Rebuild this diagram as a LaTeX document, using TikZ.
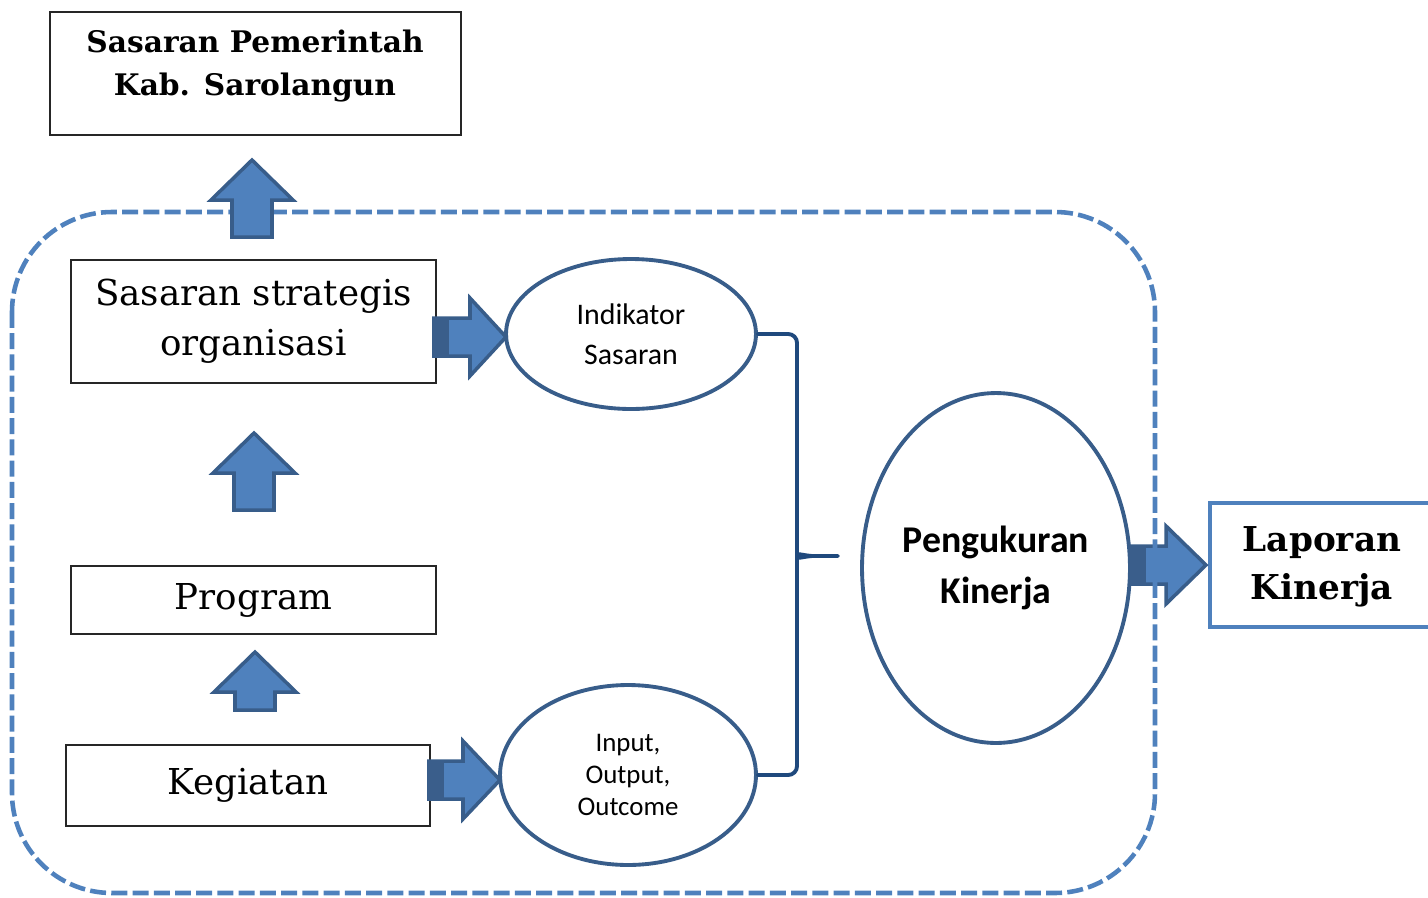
\documentclass[tikz,border=0pt]{standalone}
\usepackage{fontspec}
\newfontfamily\calibri{Carlito}
\newfontfamily\bookman{DejaVu Serif}
\usetikzlibrary{shapes.geometric,positioning,calc}

\definecolor{arrfill}{HTML}{4F81BD}
\definecolor{arrline}{HTML}{385D8A}
\definecolor{arrdark}{HTML}{3A5E8B}
\definecolor{bracecol}{HTML}{1F497D}

\tikzset{
  box/.style={draw=black!85, line width=0.7pt, fill=white, inner sep=0pt, align=center},
  oval/.style={ellipse, draw=arrline, line width=2.2pt, fill=white, inner sep=0pt, align=center},
  blockarr/.style={fill=arrfill, draw=arrline, line width=2pt, line join=miter},
  frame/.style={draw=arrfill, line width=2.6pt, dash pattern=on 0.32cm off 0.105cm, rounded corners=2cm},
  brace/.style={draw=bracecol, line width=2.2pt, line cap=round},
  titletext/.style={font=\bookman\bfseries\fontsize{16.9}{24.5}\selectfont, align=center},
  plaintext/.style={font=\bookman\fontsize{20.3}{28.5}\selectfont},
}

% up block arrow: x centre, tip y, bottom y
\newcommand\upblock[3]{%
  \draw[blockarr] (#1,#2) -- (#1+41,#2+40) -- (#1+20,#2+40) -- (#1+20,#3)
    -- (#1-20,#3) -- (#1-20,#2+40) -- (#1-41,#2+40) -- cycle;}
% right block arrow: start x, head x, tip x, centre y
\newcommand\rightblock[4]{%
  \draw[blockarr] (#1,#4-19) -- (#2,#4-19) -- (#2,#4-39) -- (#3,#4)
    -- (#2,#4+39) -- (#2,#4+19) -- (#1,#4+19) -- cycle;
  \fill[arrdark] (#1-1,#4-20) rectangle (#1+15,#4+20);}

\begin{document}
\begin{tikzpicture}[x=0.02cm, y=-0.02cm]
  \useasboundingbox (0,0) rectangle (1428,897);

  % boxes on the left
  \node (pemda) at (255.5,73.5) [box, minimum width=8.22cm, minimum height=2.46cm] {};
  \node (pemdatxt) at (255,66) [titletext] {Sasaran Pemerintah\\Kab. Sarolangun};
  \node (strat) at (253.5,321.5) [box, plaintext, minimum width=7.3cm, minimum height=2.46cm] {Sasaran strategis\\organisasi};
  \node (prog) at (253.5,600) [box, plaintext, minimum width=7.3cm, minimum height=1.36cm] {Program};
  \node (keg) at (248,785.5) [box, plaintext, minimum width=7.28cm, minimum height=1.62cm] {Kegiatan};

  % ellipses
  \node (ind) at (631,334) [oval, minimum width=5cm, minimum height=3cm,
    font=\calibri\fontsize{17}{23}\selectfont] {Indikator\\Sasaran};
  \node (iox) at (628,775) [oval, minimum width=5.12cm, minimum height=3.6cm,
    font=\calibri\fontsize{15.3}{18}\selectfont] {Input,\\Output,\\Outcome};
  \node (ukur) at (996,568) [oval, minimum width=5.36cm, minimum height=7cm,
    font=\calibri\bfseries\fontsize{21.5}{29}\selectfont] {Pengukuran\\Kinerja};

  % report box
  \node (lap) at (1325,565) [box, draw=arrfill, line width=2.2pt, minimum width=4.6cm, minimum height=2.48cm] {};
  \node (laptxt) at (1322,567) [font=\bookman\bfseries\fontsize{19.5}{27.5}\selectfont, align=center] {Laporan\\Kinerja};

  \rightblock{1131}{1166}{1206}{565}

  % dashed frame
  \draw[frame] (12,212) rectangle (1155,893);

  % block arrows
  \upblock{252}{160}{237}
  \upblock{254}{433}{510}
  \upblock{255}{652}{710}
  \rightblock{434}{470}{506}{337}
  \rightblock{429}{463}{500}{780}

  % brace
  \coordinate (tip) at (838,556);
  \draw[brace, rounded corners=5pt] (ind.east) -| (797,546) [sharp corners]
    .. controls (797,553) and (801,555) .. (812,556) -- (tip);
  \draw[brace, rounded corners=5pt] (iox.east) -| (797,566) [sharp corners]
    .. controls (797,559) and (801,557) .. (812,556);
\end{tikzpicture}
\end{document}
